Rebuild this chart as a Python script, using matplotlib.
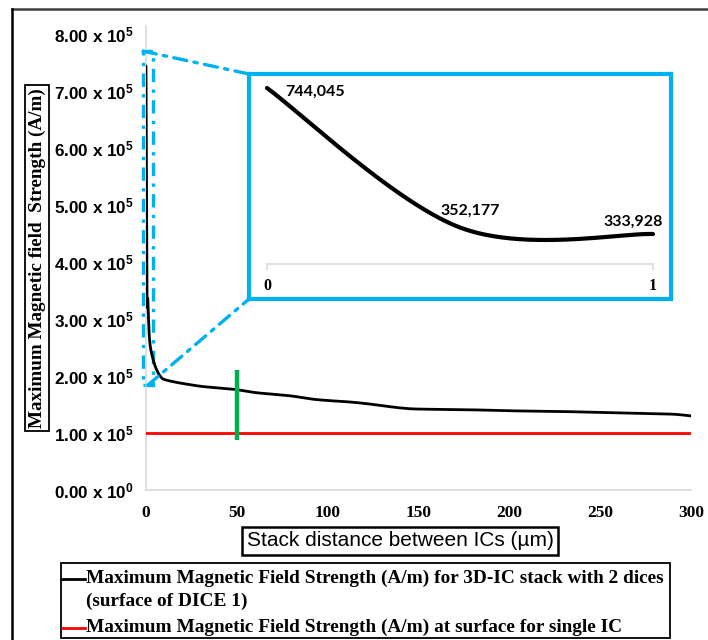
import numpy as np
import matplotlib
matplotlib.use("Agg")
import matplotlib.pyplot as plt
from matplotlib.lines import Line2D
from matplotlib.patches import Rectangle, ConnectionPatch
from matplotlib.ticker import FuncFormatter, FixedLocator

plt.rcParams["mathtext.fontset"] = "custom"
plt.rcParams["mathtext.rm"] = "Liberation Sans:bold"
plt.rcParams["mathtext.default"] = "rm"

# ---- data -------------------------------------------------------------
stack_distance_um = [0, 0.5, 1, 2, 4, 6, 8, 10, 15, 20, 30, 40, 50, 60, 70, 80,
                     90, 100, 110, 120, 130, 140, 150, 175, 200, 225, 250, 275,
                     290, 300]
field_3dic = [744045, 352177, 333928, 262000, 228000, 210000, 199000, 194000,
              190000, 187000, 182000, 179000, 176000, 171000, 168000, 165000,
              160000, 157000, 155000, 152000, 148000, 144000, 142000, 141000,
              139000, 138000, 136000, 134000, 133000, 130000]
field_single_ic = 100000
marker_distance = 50
marker_span = [88000, 210000]

zoom_x = [0, 0.5, 1]
zoom_y = [744045, 352177, 333928]

y_ticks = [0, 1e5, 2e5, 3e5, 4e5, 5e5, 6e5, 7e5, 8e5]
x_ticks = [0, 50, 100, 150, 200, 250, 300]

legend_labels = [
    "Maximum Magnetic Field Strength (A/m) for 3D-IC stack with 2 dices",
    "(surface of DICE 1)",
    "Maximum Magnetic Field Strength (A/m) at surface for single IC",
]

BLUE = "#00B0F0"
GREEN = "#00B050"
SERIF = "Liberation Serif"
SANS = "Liberation Sans"

W, H = 708, 640


def fx(px):
    return px / W


def fy(py):
    return 1 - py / H


def smooth(x, y, n=40):
    """Bezier smoothing in the style of spreadsheet 'smoothed line' charts."""
    pts = np.column_stack([x, y]).astype(float)
    out = [pts[0]]
    t = np.linspace(0, 1, n)[1:, None]
    for i in range(len(pts) - 1):
        p0 = pts[i - 1] if i > 0 else pts[i]
        p1, p2 = pts[i], pts[i + 1]
        p3 = pts[i + 2] if i + 2 < len(pts) else pts[i + 1]
        c1 = p1 + (p2 - p0) / 6
        c2 = p2 - (p3 - p1) / 6
        seg = ((1 - t) ** 3) * p1 + 3 * ((1 - t) ** 2) * t * c1 \
            + 3 * (1 - t) * t ** 2 * c2 + t ** 3 * p2
        out.extend(seg)
    out = np.array(out)
    return out[:, 0], out[:, 1]


fig = plt.figure(figsize=(W / 100, H / 100), dpi=100)

# ---- main axes ----------------------------------------------------------
ax = fig.add_axes([fx(146), fy(490), fx(691) - fx(146), fy(25.5) - fy(490)])
ax.set_xlim(0, 300)
ax.set_ylim(0, 8.15e5)
for s in ("top", "right"):
    ax.spines[s].set_visible(False)
for s in ("left", "bottom"):
    ax.spines[s].set_color("#d9d9d9")
    ax.spines[s].set_linewidth(1.2)

sx, sy = smooth(stack_distance_um, field_3dic)
ax.plot(sx, sy, color="black", lw=2.0, solid_capstyle="round", zorder=4)
ax.plot([0, 300], [field_single_ic, field_single_ic], color="#ff0000", lw=2.0, zorder=3)
ax.plot([marker_distance, marker_distance], marker_span, color=GREEN, lw=3.2,
        solid_capstyle="butt", zorder=5)

ax.yaxis.set_major_locator(FixedLocator(y_ticks))
ax.xaxis.set_major_locator(FixedLocator(x_ticks))


def sci_fmt(v, pos):
    if v == 0:
        return "0.00 x 10$^{0}$"
    e = int(np.floor(np.log10(v)))
    return f"{v / 10 ** e:.2f} x 10$^{{{e}}}$"


ax.yaxis.set_major_formatter(FuncFormatter(sci_fmt))
ax.tick_params(axis="both", length=0)
ax.tick_params(axis="y", pad=9)
ax.tick_params(axis="x", pad=11)
for lab in ax.get_yticklabels():
    lab.set_fontfamily(SANS)
    lab.set_fontweight("bold")
    lab.set_fontsize(12.3)
for lab in ax.get_xticklabels():
    lab.set_fontfamily(SERIF)
    lab.set_fontweight("bold")
    lab.set_fontsize(12.5)

# zoomed region marker
zx0, zx1, zy0, zy1 = -1.6, 3.9, 1.84e5, 7.7e5
dashdot = (0, (4, 2.2, 1, 2.2))
ax.add_patch(Rectangle((zx0, zy0), zx1 - zx0, zy1 - zy0, fill=False,
                       edgecolor=BLUE, lw=2.4, linestyle=dashdot,
                       clip_on=False, zorder=2))

# ---- inset frame and inset plot --------------------------------------------
frame = fig.add_axes([fx(249), fy(299), fx(671) - fx(249), fy(74) - fy(299)])
frame.set_xticks([])
frame.set_yticks([])
frame.patch.set_facecolor("white")
for s in frame.spines.values():
    s.set_color(BLUE)
    s.set_linewidth(3.0)

ins = fig.add_axes([fx(267), fy(264), fx(653) - fx(267), fy(80) - fy(264)])
ins.patch.set_alpha(0)
ins.set_xlim(0, 1)
ins.set_ylim(249628, 766525)
for s in ("top", "right", "left"):
    ins.spines[s].set_visible(False)
ins.spines["bottom"].set_color("#d9d9d9")
ins.spines["bottom"].set_linewidth(1.2)
ins.set_yticks([])
ins.set_xticks([0, 1])
ins.tick_params(axis="x", length=4, color="#d9d9d9", width=1.2, pad=6)
for lab in ins.get_xticklabels():
    lab.set_fontfamily(SERIF)
    lab.set_fontweight("bold")
    lab.set_fontsize(11.5)

ix, iy = smooth(zoom_x, zoom_y, n=80)
ins.plot(ix, iy, color="black", lw=3.0, solid_capstyle="round", clip_on=False)

label_offsets = [((13, -3), "left"), ((7, 12), "center"), ((-14, 8.5), "center")]
for xv, yv, (off, ha) in zip(zoom_x, zoom_y, label_offsets):
    ins.annotate(f"{yv:,.0f}", (xv, yv), xytext=off, textcoords="offset points",
                 ha=ha, va="center", fontfamily="Lato", fontweight="bold",
                 fontsize=11.5, annotation_clip=False)

# connectors from zoom box to inset frame
for (xa, ya), (xb, yb) in [((zx0, zy1), (0, 1)), ((1.0, zy0), (0, 0))]:
    cp = ConnectionPatch(xyA=(xa, ya), coordsA=ax.transData,
                         xyB=(xb, yb), coordsB=frame.transAxes,
                         color=BLUE, lw=2.4, linestyle=dashdot, zorder=2)
    fig.add_artist(cp)

# ---- axis titles in boxes ---------------------------------------------------
fig.text(fx(37), fy(258), "Maximum Magnetic field  Strength (A/m)", rotation=90,
         ha="center", va="center", fontfamily=SERIF, fontweight="bold",
         fontsize=13.8,
         bbox=dict(boxstyle="square,pad=0.15", fc="white", ec="black", lw=1.3))
fig.text(fx(400), fy(541), "Stack distance between ICs (\u00b5m)", ha="center",
         va="center", fontfamily=SANS, fontsize=15,
         bbox=dict(boxstyle="square,pad=0.22", fc="white", ec="black", lw=1.8))

# ---- legend -----------------------------------------------------------------
fig.add_artist(Rectangle((fx(61), fy(638)), fx(670) - fx(61), fy(563) - fy(638),
                         transform=fig.transFigure, fill=False, ec="black", lw=1.3))
fig.add_artist(Line2D([fx(62), fx(85)], [fy(579), fy(579)], color="black", lw=2.0,
                      transform=fig.transFigure))
fig.add_artist(Line2D([fx(62), fx(85)], [fy(628), fy(628)], color="#ff0000", lw=2.0,
                      transform=fig.transFigure))
for text, py in zip(legend_labels, [578, 601, 627]):
    fig.text(fx(86), fy(py), text, ha="left", va="center", fontfamily=SERIF,
             fontweight="bold", fontsize=13.9)

# ---- outer frame ------------------------------------------------------------
fig.add_artist(Line2D([fx(12), 1], [fy(9), fy(9)], color="#404040", lw=1.8,
                      transform=fig.transFigure))
fig.add_artist(Line2D([fx(12), fx(12)], [fy(9), 0], color="black", lw=1.8,
                      transform=fig.transFigure))

fig.savefig("out.png", dpi=100)
